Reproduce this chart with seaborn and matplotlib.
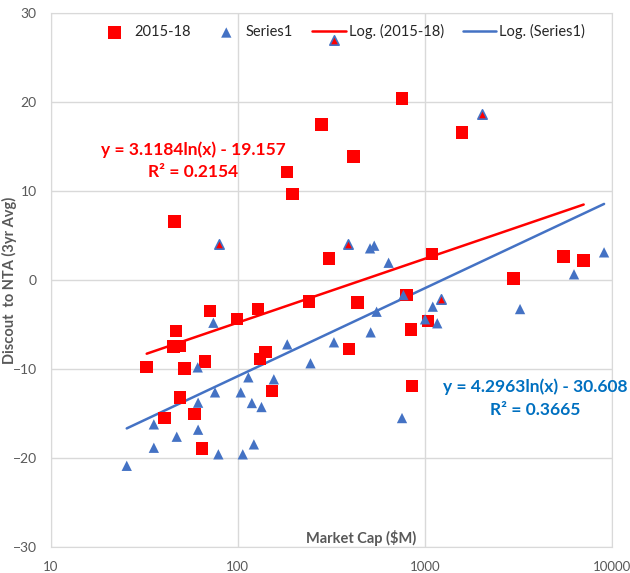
import numpy as np
import pandas as pd
import matplotlib
matplotlib.use("Agg")
import matplotlib.pyplot as plt
import seaborn as sns

# 2015-18 series (red squares): market cap ($M), discount to NTA
red_x = [32.6, 40.5, 46.8, 45.3, 49.1, 51.8, 49.1, 58.6, 64.2, 66.9, 71.1, 98.8,
         128, 131.6, 141, 152, 240, 45.8, 184, 196, 281, 756, 415, 1577, 307,
         1094, 5536, 7079, 2978, 801, 436, 393, 845, 1038, 855]
red_y = [-9.76, -15.5, -5.74, -7.5, -7.43, -9.94, -13.2, -15.08, -18.94, -9.19, -3.49, -4.39,
         -3.23, -8.89, -8.07, -12.49, -2.44, 6.56, 12.18, 9.67, 17.47, 20.4, 13.87, 16.57, 2.44,
         2.92, 2.62, 2.21, 0.19, -1.69, -2.51, -7.76, -5.55, -4.58, -11.93]

# Series1 (blue triangles)
blue_x = [25.5, 35.6, 35.6, 47.2, 61.1, 61.4, 61.4, 74.1, 75.6, 78.8, 103.8, 106.4,
          114, 119, 122, 134, 156, 184, 245, 553, 327, 514, 769, 1004, 1104, 1167,
          3234, 756, 510, 537, 641, 6285, 9100]
blue_y = [-20.9, -16.24, -18.87, -17.63, -9.83, -13.8, -16.84, -4.81, -12.64, -19.61, -12.64, -19.61,
          -10.95, -13.84, -18.49, -14.29, -11.17, -7.24, -9.37, -3.57, -7.01, -5.89, -1.69, -4.42, -3.0, -4.87,
          -3.27, -15.53, 3.56, 3.86, 1.94, 0.64, 3.11]

# Series1 points shown with red fill
mixed_x = [1218, 327, 2024, 387, 79.1]
mixed_y = [-2.17, 27.0, 18.64, 4.01, 4.08]

# log trendlines: y = a*ln(x) + b
red_fit = (3.1184, -19.157)
blue_fit = (4.2963, -30.608)

RED = "#FF0000"
BLUE = "#4472C4"
GREY = "#595959"

sns.set_style("white")
plt.rcParams["font.family"] = ["Lato", "DejaVu Sans"]

fig = plt.figure(figsize=(6.3, 5.73), dpi=100)
ax = fig.add_axes([0.0805, 0.0459, 0.8905, 0.9309])

red_df = pd.DataFrame({"cap": red_x, "disc": red_y})
blue_df = pd.DataFrame({"cap": blue_x, "disc": blue_y})
mixed_df = pd.DataFrame({"cap": mixed_x, "disc": mixed_y})

sns.scatterplot(data=red_df, x="cap", y="disc", marker="s", s=80, color=RED,
                edgecolor="none", label="2015-18", ax=ax, zorder=3)
sns.scatterplot(data=blue_df, x="cap", y="disc", marker="^", s=55,
                color=BLUE, edgecolor="none", label="Series1", ax=ax, zorder=4)
sns.scatterplot(data=mixed_df, x="cap", y="disc", marker="^", s=45, color=RED,
                edgecolor=BLUE, linewidth=1.2, ax=ax, zorder=4, legend=False)

# trendlines over each series' range
all_blue = blue_x + mixed_x
rx = np.geomspace(min(red_x), max(red_x), 100)
bx = np.geomspace(min(all_blue), max(all_blue), 100)
sns.lineplot(x=rx, y=red_fit[0] * np.log(rx) + red_fit[1], color=RED, lw=1.8,
             label="Log. (2015-18)", ax=ax, zorder=2)
sns.lineplot(x=bx, y=blue_fit[0] * np.log(bx) + blue_fit[1], color=BLUE, lw=1.8,
             label="Log. (Series1)", ax=ax, zorder=2)

ax.set_xscale("log")
ax.set_xlim(10, 10000)
ax.set_ylim(-30, 30)
ax.set_xticks([10, 100, 1000, 10000])
ax.set_xticklabels(["10", "100", "1000", "10000"])
ax.set_yticks(range(-30, 31, 10))
ax.minorticks_off()
ax.grid(True, color="#D9D9D9", lw=1)
ax.set_axisbelow(True)
for sp in ax.spines.values():
    sp.set_color("#D9D9D9")
ax.tick_params(axis="both", colors=GREY, labelsize=10, length=0)
ax.tick_params(axis="x", labelsize=9.5, pad=10)
ax.tick_params(axis="y", pad=10)

ax.set_xlabel("")
ax.set_ylabel("Discout  to NTA (3yr Avg)", fontsize=10.5, fontweight="bold", color=GREY)
ax.yaxis.set_label_coords(-0.06, 0.5)
ax.text(0.554, 0.016, "Market Cap ($M)", transform=ax.transAxes, ha="center", va="center",
        fontsize=10.5, fontweight="bold", color=GREY)


# equation labels, placed by pixel position in the figure
def px_to_axes(px, py):
    bbox = ax.get_position()
    return ((px / 630 - bbox.x0) / bbox.width, ((573 - py) / 573 - bbox.y0) / bbox.height)


for txt, (px, py), col in [("y = 3.1184ln(x) - 19.157", (193.5, 150), RED),
                           ("R² = 0.2154", (193.5, 172), RED),
                           ("y = 4.2963ln(x) - 30.608", (535, 387), "#0070C0"),
                           ("R² = 0.3665", (535, 410), "#0070C0")]:
    ax.text(*px_to_axes(px, py), txt, transform=ax.transAxes, ha="center", va="center",
            fontsize=12.5, fontweight="bold", color=col)

ax.legend(loc="upper center", bbox_to_anchor=(0.518, 1.004), ncol=4, frameon=False,
          fontsize=10.5, handlelength=2.3, columnspacing=1.3, handletextpad=0.2)

fig.savefig("out.png", dpi=100)
